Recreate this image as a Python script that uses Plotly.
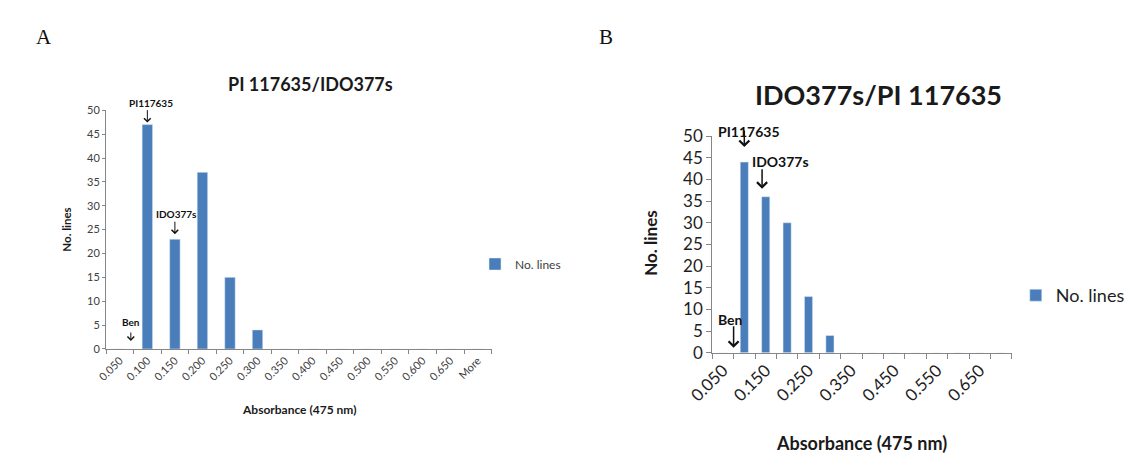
import plotly.graph_objects as go

# ---- data ----
categories_a = ["0.050", "0.100", "0.150", "0.200", "0.250", "0.300", "0.350",
                "0.400", "0.450", "0.500", "0.550", "0.600", "0.650", "More"]
values_a = [0, 47, 23, 37, 15, 4, 0, 0, 0, 0, 0, 0, 0, 0]

categories_b = ["0.050", "0.100", "0.150", "0.200", "0.250", "0.300", "0.350",
                "0.400", "0.450", "0.500", "0.550", "0.600", "0.650", "More"]
values_b = [0, 44, 36, 30, 13, 4, 0, 0, 0, 0, 0, 0, 0, 0]
ticklabels_b = ["0.050", "", "0.150", "", "0.250", "", "0.350",
                "", "0.450", "", "0.550", "", "0.650", ""]

title_a = "PI 117635/IDO377s"
title_b = "IDO377s/PI 117635"
series_name = "No. lines"
x_title = "Absorbance (475 nm)"
y_title = "No. lines"
# arrow markers: (label, category index)
markers_a = [("PI117635", 1), ("IDO377s", 2), ("Ben", 0)]
markers_b = [("PI117635", 1), ("IDO377s", 2), ("Ben", 0)]

# ---- style ----
W, H = 1130, 464
BAR = "#4a7ebb"
AX = "#868686"
FONT = "Lato"
TXT_A = "#404040"
TXT_B = "#1e1e1e"
DARK = "#1a1a1a"

# per-marker placement: (x index offset, arrow standoff px, arrow tail ay px, text xshift, text yshift)
place_a = {"PI117635": (0.0, 2, -16, 4, 22),
           "IDO377s": (0.0, 5, -19, 2, 25),
           "Ben": (0.4, 8, -18, 0, 27)}
place_b = {"PI117635": (0.0, 15, -33, 5, 31),
           "IDO377s": (-0.17, 8, -29, 18, 35),
           "Ben": (0.5, 5, -28, -3, 33)}


def px(x):
    return x / W


def py(y):
    return 1 - y / H


fig = go.Figure()
fig.add_trace(go.Bar(x=categories_a, y=values_a, name=series_name, marker_color=BAR,
                     xaxis="x", yaxis="y", legend="legend", showlegend=True))
fig.add_trace(go.Bar(x=categories_b, y=values_b, name=series_name, marker_color=BAR,
                     xaxis="x2", yaxis="y2", legend="legend2", showlegend=True))

common_x = dict(type="category", tickson="boundaries", ticks="outside",
                tickcolor=AX, showline=True, linecolor=AX, linewidth=1, tickangle=-45,
                showgrid=False, zeroline=False)
common_y = dict(range=[0, 50], dtick=5, ticks="outside", tickcolor=AX,
                showline=True, linecolor=AX, linewidth=1, showgrid=False, zeroline=False)

fig.update_layout(
    width=W, height=H, margin=dict(l=0, r=0, t=0, b=0),
    paper_bgcolor="white", plot_bgcolor="white", bargap=0.62,
    font=dict(family=FONT, color=TXT_A),
    xaxis=dict(domain=[px(82), px(477)], anchor="y", categoryorder="array",
               categoryarray=categories_a, ticklen=4,
               tickfont=dict(size=11, color=TXT_A), **common_x),
    yaxis=dict(domain=[py(354), py(104)], anchor="x", ticklen=3,
               tickfont=dict(size=11, color=TXT_A), **common_y),
    xaxis2=dict(domain=[px(703), px(1010)], anchor="y2", categoryorder="array",
                categoryarray=categories_b, tickmode="array", tickvals=categories_b,
                ticktext=ticklabels_b, ticklen=5,
                tickfont=dict(size=17, color=TXT_B), **common_x),
    yaxis2=dict(domain=[py(358), py(131)], anchor="x2", ticklen=5,
                tickfont=dict(size=17, color=TXT_B), **common_y),
    legend=dict(x=px(460), y=py(265), xanchor="left", yanchor="middle", itemwidth=30,
                font=dict(size=12, color=TXT_A), bgcolor="rgba(0,0,0,0)"),
    legend2=dict(x=px(1014), y=py(298), xanchor="left", yanchor="middle", itemwidth=30,
                 font=dict(size=18, color=TXT_B), bgcolor="rgba(0,0,0,0)"),
)

ann = []


def text_ann(text, x, y, size, family=None, color=DARK, angle=0):
    f = dict(size=size, color=color)
    if family:
        f["family"] = family
    return dict(text=text, x=px(x), y=py(y), xref="paper", yref="paper", showarrow=False,
                xanchor="center", yanchor="middle", textangle=angle, font=f)


# panel letters
ann.append(text_ann("A", 18, 27, 21, family="Liberation Serif", color="#111"))
ann.append(text_ann("B", 594, 27, 21, family="Liberation Serif", color="#111"))
# chart titles
ann.append(text_ann("<b>%s</b>" % title_a, 291, 76, 18))
ann.append(text_ann("<b>%s</b>" % title_b, 873, 87, 27))
# axis titles
ann.append(text_ann("<b>%s</b>" % x_title, 280, 417, 12))
ann.append(text_ann("<b>%s</b>" % y_title, 42, 229, 11.5, angle=-90))
ann.append(text_ann("<b>%s</b>" % x_title, 856, 453, 18))
ann.append(text_ann("<b>%s</b>" % y_title, 639, 243, 17, angle=-90))


def marker_anns(markers, vals, place, xref, yref, fsize, awidth, asize):
    out = []
    for label, i in markers:
        dxi, stand, ay, tx, ty = place[label]
        # arrow only
        out.append(dict(text="", x=i + dxi, y=vals[i], xref=xref, yref=yref,
                        showarrow=True, arrowhead=4, arrowwidth=awidth, arrowsize=asize,
                        arrowcolor="#111", ax=0, ay=ay, standoff=stand))
        # label (numeric category index so it is not read as a number)
        out.append(dict(text="<b>%s</b>" % label, x=i + dxi, y=vals[i], xref=xref, yref=yref,
                        showarrow=False, xanchor="center", yanchor="middle",
                        xshift=tx, yshift=ty, font=dict(size=fsize, color="#111")))
    return out


ann += marker_anns(markers_a, values_a, place_a, "x", "y", 10, 1, 1.3)
ann += marker_anns(markers_b, values_b, place_b, "x2", "y2", 14, 1.5, 1.3)

fig.update_layout(annotations=ann)
fig.write_html("out.html", config={"displayModeBar": False},
               post_script="document.body.style.margin='0';document.body.style.overflow='hidden';")
